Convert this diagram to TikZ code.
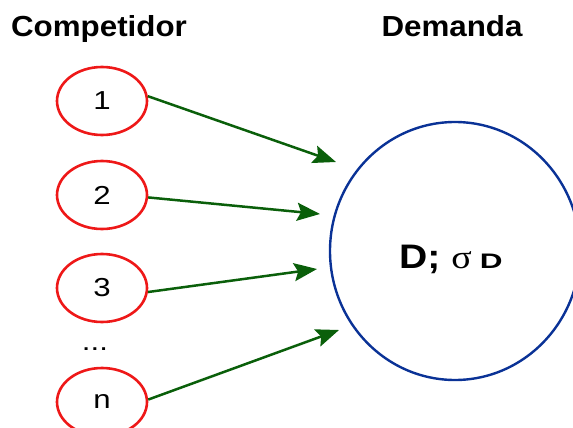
\documentclass[tikz,border=0pt]{standalone}
\usepackage{fontspec}
\usepackage{graphicx}
\setmainfont{Liberation Sans}
\newfontfamily\serifgreek{Liberation Serif}
\usetikzlibrary{shapes.geometric,arrows.meta}
\definecolor{compred}{RGB}{238,24,24}
\definecolor{demblue}{RGB}{10,50,150}
\definecolor{arrgreen}{RGB}{10,95,10}
\newcommand\widetext[2][1.2]{\scalebox{#1}[1]{#2}}
\tikzset{
  competitor/.style={ellipse, draw=compred, line width=2.6pt,
    minimum width=90pt, minimum height=68pt, inner sep=0pt,
    font=\fontsize{26}{26}\selectfont},
  demand/.style={ellipse, draw=demblue, line width=2.4pt,
    minimum width=250pt, minimum height=258pt, inner sep=0pt},
  title/.style={font=\fontsize{29}{29}\selectfont\bfseries, anchor=base},
  flow/.style={draw=arrgreen, line width=2.5pt,
    -{Stealth[length=23pt, width=18pt, inset=4pt]}}
}
\begin{document}
\begin{tikzpicture}[x=1pt, y=-1pt]
  \useasboundingbox (0,0) rectangle (573,428);
  \begin{scope}
    \clip (0,0) rectangle (573,428);

    % column headings
    \node[title] (hcomp) at (99,37) {\widetext[1.08]{Competidor}};
    \node[title] (hdem)  at (452,37) {\widetext[1.08]{Demanda}};

    % competitors
    \node[competitor] (c1) at (102,101) {\widetext{1}};
    \node[competitor] (c2) at (102,195) {\widetext{2}};
    \node[competitor] (c3) at (102,288) {\widetext{3}};
    \node[font=\fontsize{26}{26}\selectfont, anchor=base] (dots) at (95,350) {\widetext{...}};
    \node[competitor] (cn) at (102,402) {\widetext{n}};

    % demand
    \node[demand] (dem) at (455,251) {};
    \node[anchor=base west, inner sep=0pt] (dlabel) at (399,268)
      {\fontsize{34}{34}\selectfont\bfseries\widetext[1.15]{D;}\hspace{11pt}%
       {\serifgreek\mdseries\fontsize{33}{33}\selectfont\widetext[1.15]{σ}}\hspace{8pt}%
       {\fontsize{21}{21}\selectfont\bfseries\widetext[1.5]{D}}};

    % arrow tips short of the demand circle
    \coordinate (t1) at (336,162);
    \coordinate (t2) at (320,214);
    \coordinate (t3) at (317,269);
    \coordinate (t4) at (339,330);

    \draw[flow] (c1.6)  -- (t1);
    \draw[flow] (c2.-3) -- (t2);
    \draw[flow] (c3.-5) -- (t3);
    \draw[flow] (cn.3)  -- (t4);
  \end{scope}
\end{tikzpicture}
\end{document}
